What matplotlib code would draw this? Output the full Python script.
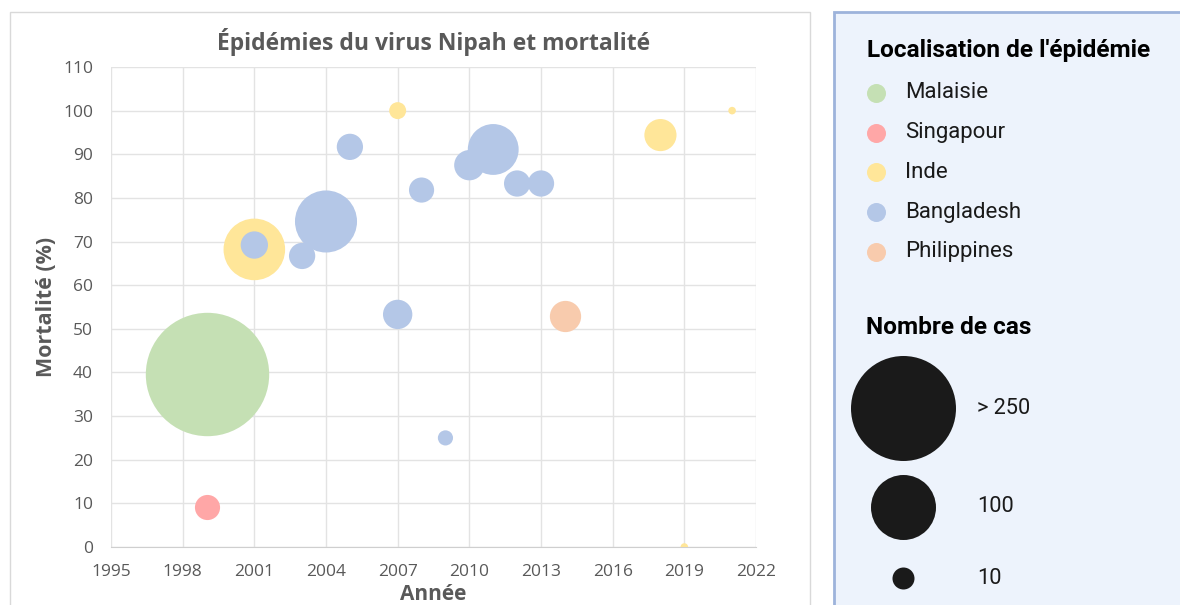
import matplotlib.pyplot as plt
from matplotlib.patches import Rectangle
import numpy as np

# Données : année, mortalité (%), nombre de cas
malaisie_annees = [1999]
malaisie_mort = [39.6]
malaisie_cas = [265]

singapour_annees = [1999]
singapour_mort = [9.1]
singapour_cas = [11]

inde_annees = [2001, 2007, 2018, 2019, 2021]
inde_mort = [68.2, 100, 94.4, 0, 100]
inde_cas = [66, 5, 18, 1, 1]

bangladesh_annees = [2001, 2003, 2004, 2005, 2007, 2008, 2009, 2010, 2011, 2012, 2013]
bangladesh_mort = [69.2, 66.7, 74.6, 91.7, 53.3, 81.8, 25, 87.5, 91.1, 83.3, 83.3]
bangladesh_cas = [13, 12, 67, 12, 15, 11, 4, 16, 45, 12, 12]

philippines_annees = [2014]
philippines_mort = [52.9]
philippines_cas = [17]

pays = ["Malaisie", "Singapour", "Inde", "Bangladesh", "Philippines"]
couleurs = ["#C5E0B4", "#FFA7A7", "#FFE699", "#B4C7E7", "#F8CBAD"]

legende_tailles = ["> 250", "100", "10"]

DPI = 100


# Taille de bulle (points^2) proportionnelle au nombre de cas
def bulle(cas):
    r_px = 3.79 * np.sqrt(np.asarray(cas, dtype=float))
    return (2 * r_px * 72 / DPI) ** 2


fig = plt.figure(figsize=(11.8, 6.05), dpi=DPI)

# Calque de fond en pixels pour les cadres et la légende
bg = fig.add_axes([0, 0, 1, 1], zorder=0)
bg.set_xlim(0, 1180)
bg.set_ylim(605, 0)
bg.axis("off")
bg.add_patch(Rectangle((10, 12), 800, 600, facecolor="white", edgecolor="#D9D9D9", lw=1))
bg.add_patch(Rectangle((834, 12), 360, 600, facecolor="#EDF3FC", edgecolor="#9DB3DB", lw=2))

ax = fig.add_axes([111 / 1180, 1 - 547 / 605, 645 / 1180, 480 / 605], zorder=1)
ax.patch.set_alpha(0)

series = [
    (malaisie_annees, malaisie_mort, malaisie_cas),
    (singapour_annees, singapour_mort, singapour_cas),
    (inde_annees, inde_mort, inde_cas),
    (bangladesh_annees, bangladesh_mort, bangladesh_cas),
    (philippines_annees, philippines_mort, philippines_cas),
]
for (x, y, c), col in zip(series, couleurs):
    ax.scatter(x, y, s=bulle(c), color=col, linewidths=0, zorder=3)

ax.set_xlim(1995, 2022)
ax.set_ylim(0, 110)
ax.set_xticks(np.arange(1995, 2023, 3))
ax.set_yticks(np.arange(0, 111, 10))
ax.grid(True, color="#E3E3E3", lw=1)
ax.set_axisbelow(True)
for s in ["left", "right", "top"]:
    ax.spines[s].set_visible(False)
ax.spines["bottom"].set_color("#CFCFCF")
ax.tick_params(length=0, labelsize=12.5, labelcolor="#595959")
ax.tick_params(axis="x", pad=12)
ax.tick_params(axis="y", pad=13)
for lab in ax.get_xticklabels() + ax.get_yticklabels():
    lab.set_family("Open Sans")

ax.set_title("Épidémies du virus Nipah et mortalité", family="Open Sans", fontweight="bold",
             fontsize=16.5, color="#595959", pad=12)
ax.set_xlabel("Année", family="Open Sans", fontweight="bold", fontsize=15, color="#595959", labelpad=3)
ax.set_ylabel("Mortalité (%)", family="Open Sans", fontweight="bold", fontsize=15.5, color="#595959", labelpad=4)

# Légende : localisation
bg.text(867, 51, "Localisation de l'épidémie", family="Roboto", fontweight="bold", fontsize=17.6,
        color="black", va="center")
for i, (nom, col) in enumerate(zip(pays, couleurs)):
    yy = 93 + i * 39.7
    bg.scatter([876], [yy], s=(19 * 72 / DPI) ** 2, color=col, linewidths=0)
    bg.text(905, yy, nom, family="Roboto", fontsize=16, color="#1A1A1A", va="center")

# Légende : nombre de cas
bg.text(866, 328, "Nombre de cas", family="Roboto", fontweight="bold", fontsize=17.6,
        color="black", va="center")
for lab, r, yy in zip(legende_tailles, [52.5, 32.5, 11], [408, 507, 578]):
    bg.scatter([903], [yy], s=(2 * r * 72 / DPI) ** 2, color="#1A1A1A", linewidths=0)
    bg.text(977, yy, lab, family="Roboto", fontsize=15.7, color="#1A1A1A", va="center")

fig.savefig("out.png", dpi=DPI)
